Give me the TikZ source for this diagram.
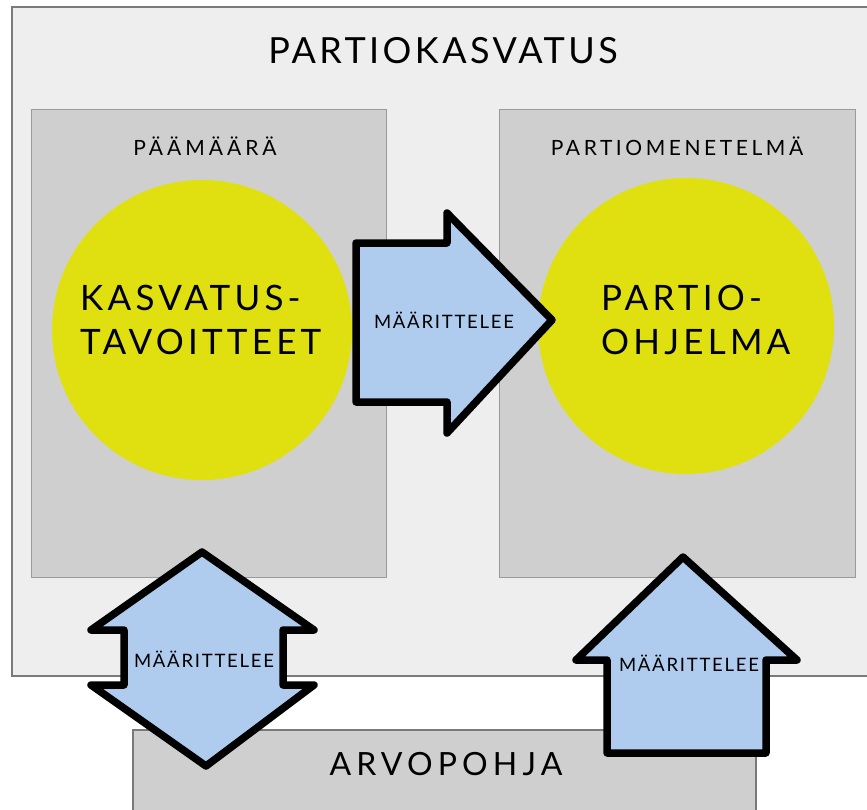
\documentclass[tikz,border=0pt]{standalone}
\usepackage{fontspec}
\setmainfont{Lato}
\newcommand{\spaced}[2]{\addfontfeature{LetterSpace=#1}#2}
\definecolor{outerfill}{HTML}{EEEEEE}
\definecolor{innerfill}{HTML}{CFCFCF}
\definecolor{bordergray}{HTML}{7A7A7A}
\definecolor{innerborder}{HTML}{9A9A9A}
\definecolor{yel}{HTML}{E0E010}
\definecolor{arrowblue}{HTML}{AFCBEE}
\tikzset{
  panel/.style={fill=innerfill, draw=innerborder, line width=1pt},
  bigarrow/.style={fill=arrowblue, draw=black, line width=7.5pt, line join=round},
  lbl/.style={inner sep=0pt, anchor=base, text=black},
  bigtxt/.style={inner sep=0pt, anchor=base west, font=\fontsize{35}{35}\selectfont\addfontfeature{LetterSpace=12}},
  arrowtxt/.style={lbl, font=\fontsize{18.5}{18.5}\selectfont\addfontfeature{LetterSpace=9.5}},
}
\begin{document}
\begin{tikzpicture}[x=1pt,y=-1pt]
\clip (0,0) rectangle (867,809);
\fill[white] (0,0) rectangle (867,809);
% outer box
\draw[fill=outerfill, draw=bordergray, line width=1.3pt] (12,7) rectangle (900,676);
\node[lbl, font=\fontsize{36}{36}\selectfont\addfontfeature{LetterSpace=9.5}] (title) at (443,63) {PARTIOKASVATUS};
% inner panels
\draw[panel] (31,109) rectangle (386,577);
\draw[panel] (499,109) rectangle (855,577);
\node[lbl, font=\fontsize{21}{21}\selectfont\addfontfeature{LetterSpace=19}] (goal) at (205,155) {PÄÄMÄÄRÄ};
\node[lbl, font=\fontsize{21}{21}\selectfont\addfontfeature{LetterSpace=17}] (method) at (677,155) {PARTIOMENETELMÄ};
% circles
\fill[yel] (202,330) circle (150);
\fill[yel] (686,326) circle (148);
\node[bigtxt] (kt1) at (80,310) {KASVATUS-};
\node[bigtxt] (kt2) at (80,354) {TAVOITTEET};
\node[bigtxt] (po1) at (601,310) {PARTIO-};
\node[bigtxt] (po2) at (601,354) {OHJELMA};
% bottom box
\draw[fill=innerfill, draw=bordergray, line width=1.3pt] (133,730) rectangle (756,830);
\node[lbl, font=\fontsize{32}{32}\selectfont\addfontfeature{LetterSpace=16}] (base) at (446,775) {ARVOPOHJA};
% right arrow
\draw[bigarrow] (356,243) -- (447,243) -- (447,213) -- (552,320) -- (447,433) -- (447,402) -- (356,402) -- cycle;
\node[arrowtxt] (a1) at (444,328) {MÄÄRITTELEE};
% double arrow
\draw[bigarrow] (202,552) -- (314,630) -- (283,630) -- (283,685) -- (314,685) -- (206,766) -- (91,685) -- (124,685) -- (124,630) -- (91,630) -- cycle;
\node[arrowtxt] (a2) at (204,667) {MÄÄRITTELEE};
% up arrow
\draw[bigarrow] (683,557) -- (797,660) -- (766,660) -- (766,753) -- (607,753) -- (607,660) -- (576,660) -- cycle;
\node[arrowtxt] (a3) at (689,671) {MÄÄRITTELEE};
\end{tikzpicture}
\end{document}
